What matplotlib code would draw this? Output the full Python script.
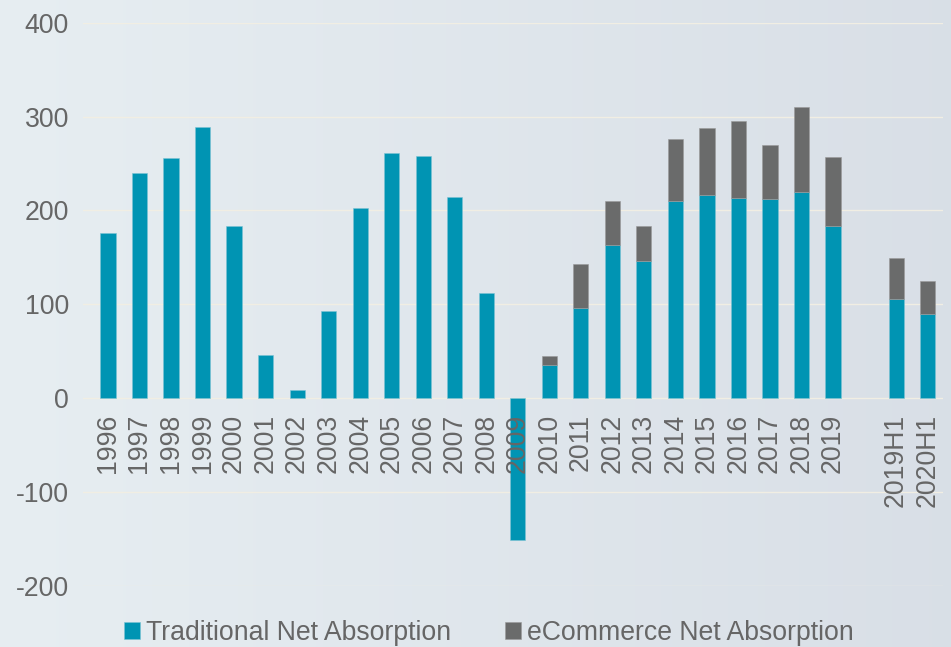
import matplotlib.pyplot as plt
import numpy as np

plt.rcParams['font.family'] = ['Liberation Sans', 'DejaVu Sans']
plt.rcParams['axes.unicode_minus'] = False

# data (blank slot between 2019 and the half-year bars)
labels = ['1996', '1997', '1998', '1999', '2000', '2001', '2002', '2003', '2004',
          '2005', '2006', '2007', '2008', '2009', '2010', '2011', '2012', '2013',
          '2014', '2015', '2016', '2017', '2018', '2019', '', '2019H1', '2020H1']
traditional = [176, 240, 256, 289, 183, 46, 9, 93, 203,
               261, 258, 214, 112, -151, 35, 96, 163, 146,
               210, 217, 213, 212, 220, 183, np.nan, 106, 90]
ecommerce = [0, 0, 0, 0, 0, 0, 0, 0, 0,
             0, 0, 0, 0, 0, 10, 47, 47, 38,
             66, 71, 82, 58, 90, 74, np.nan, 43, 35]
yticks = [-200, -100, 0, 100, 200, 300, 400]

teal = '#0094b3'
grey = '#6a6b6b'
txt = '#666666'
fs = 19.2

x = np.arange(len(labels))
trad = np.array(traditional, dtype=float)
ecom = np.array(ecommerce, dtype=float)

fig = plt.figure(figsize=(9.51, 6.47), dpi=100)

# light background wash
bg = fig.add_axes([0, 0, 1, 1], zorder=-10)
grad = np.linspace(0, 1, 256).reshape(1, -1)
c0 = np.array([0.905, 0.933, 0.948])
c1 = np.array([0.850, 0.875, 0.905])
img = c0[None, None, :] * (1 - grad[..., None]) + c1[None, None, :] * grad[..., None]
bg.imshow(img, aspect='auto', extent=[0, 1, 0, 1])
bg.axis('off')

ax = fig.add_axes([0.087, 0.094, 0.905, 0.871])
ax.patch.set_alpha(0)

# faint gridlines behind the bars
for yv in yticks:
    ax.axhline(yv, color='#f1eee3', linewidth=1.0, zorder=0)

ax.bar(x, trad, width=0.48, color=teal, edgecolor='#7cc3d4', linewidth=0.4,
       label='Traditional Net Absorption', zorder=2)
ecom_mask = np.where(ecom > 0, ecom, np.nan)
ax.bar(x, ecom_mask, width=0.48, bottom=trad, color=grey, edgecolor='#9a9a9a',
       linewidth=0.4, label='eCommerce Net Absorption', zorder=2)

ax.set_ylim(-200, 400)
ax.set_xlim(-0.8, 26.5)
ax.set_yticks(yticks)
ax.set_axisbelow(False)  # tick labels over the bars (2009)

for s in ['top', 'right', 'left']:
    ax.spines[s].set_visible(False)
ax.spines['bottom'].set_position(('data', 0))
ax.spines['bottom'].set_visible(False)

ax.set_xticks(x)
ax.set_xticklabels(labels, rotation=90, va='top', ha='center')
ax.tick_params(axis='x', length=0, pad=11, labelsize=fs, labelcolor=txt)
ax.tick_params(axis='y', length=0, pad=10, labelsize=fs, labelcolor=txt)

fig.legend(loc='center', bbox_to_anchor=(0.514, 0.022), ncol=2, frameon=False,
           fontsize=fs, labelcolor=txt, handlelength=0.6, handleheight=0.6,
           handletextpad=0.25, columnspacing=2.0, borderpad=0)

plt.savefig('out.png', dpi=100)
